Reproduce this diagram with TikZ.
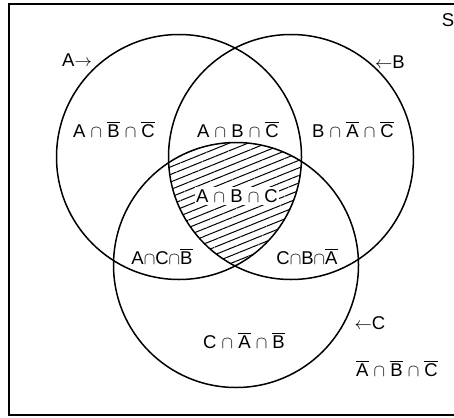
\documentclass[tikz,border=0pt]{standalone}
\usepackage{fontspec}
\setmainfont{Liberation Sans}
\usetikzlibrary{patterns.meta}
\newcommand{\nt}[1]{\vbox{\hrule height 1.4pt\kern 1.8pt\hbox{#1}}}
\newcommand{\ca}{{\fontsize{17}{19}\selectfont$\cap$}}
\begin{document}
\begin{tikzpicture}[x=1pt,y=-1pt,
  setcirc/.style={circle,draw,line width=1.5pt,minimum size=245pt,inner sep=0pt},
  lbl/.style={font=\fontsize{18.5}{22}\selectfont,inner sep=0pt}]
\useasboundingbox (0,0) rectangle (454,417);
\clip (0,0) rectangle (454,417);
% frame
\draw[line width=2.2pt] (470,4) -- (9,4) -- (9,415) -- (470,415);
% hatched triple intersection
\begin{scope}
  \clip (179,157) circle[radius=122.5pt];
  \clip (291,157) circle[radius=122.5pt];
  \fill[pattern={Lines[angle=22,distance=7pt,line width=1pt]}] (236,265) circle[radius=122.5pt];
\end{scope}
% circles
\node[setcirc] (A) at (179,157) {};
\node[setcirc] (B) at (291,157) {};
\node[setcirc] (C) at (236,265) {};
% labels
\node[lbl] (S) at (448,20) {S};
\node[lbl] (la) at (77,60) {A$\rightarrow$};
\node[lbl] (lb) at (390,62) {$\leftarrow$B};
\node[lbl] (lc) at (370,323) {$\leftarrow$C};
\node[lbl] (r1) at (114,130) {A \ca{} \nt{B} \ca{} \nt{C}};
\node[lbl] (r2) at (238,130) {A \ca{} B \ca{} \nt{C}};
\node[lbl] (r3) at (353,130) {B \ca{} \nt{A} \ca{} \nt{C}};
\node[lbl,fill=white,inner xsep=1pt,inner ysep=2pt] (r4) at (237,196) {A \ca{} B \ca{} C};
\node[lbl] (r5) at (162,257) {A\ca C\ca\nt{B}};
\node[lbl] (r6) at (307,257) {C\ca B\ca\nt{A}};
\node[lbl] (r7) at (244,341) {C \ca{} \nt{A} \ca{} \nt{B}};
\node[lbl] (r8) at (397,369) {\nt{A} \ca{} \nt{B} \ca{} \nt{C}};
\end{tikzpicture}
\end{document}
